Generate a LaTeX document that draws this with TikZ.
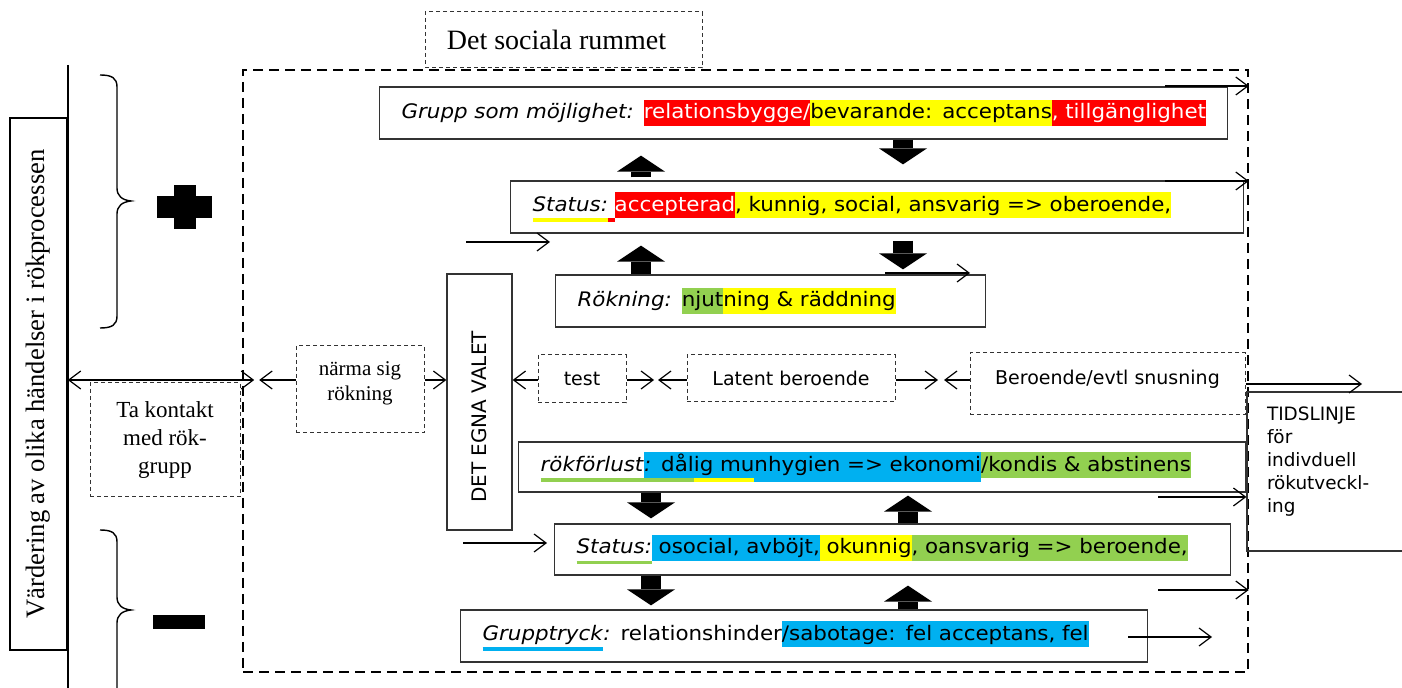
\documentclass[tikz,border=0pt]{standalone}
\usepackage{fontspec}
\setmainfont{DejaVu Sans}
\newfontfamily\verdana{DejaVu Sans}[FakeStretch=1.07]
\newfontfamily\timesfont{Liberation Serif}
\usepackage{xcolor}
\usepackage{graphicx}
\usepackage{tikz}
\usetikzlibrary{arrows.meta}
\definecolor{hlred}{HTML}{FF0000}
\definecolor{hlyellow}{HTML}{FFFF00}
\definecolor{hlblue}{HTML}{00B0F0}
\definecolor{hlgreen}{HTML}{92D050}
\newsavebox{\ulbox}
\newcommand{\hl}[2]{{\setlength{\fboxsep}{0pt}\colorbox{#1}{\rule[-3.5pt]{0pt}{13pt}#2}}}
\newcommand{\uln}[2]{\sbox{\ulbox}{#2}\rlap{\color{#1}\rule[-5.2pt]{\wd\ulbox}{1.7pt}}\usebox{\ulbox}}
\tikzstyle{level} = [rectangle, draw=black!80, line width=0.6pt, minimum height=26pt, inner xsep=11pt, inner ysep=0pt, anchor=west, align=left, font=\verdana\fontsize{10}{12}\selectfont]
\tikzstyle{phase} = [rectangle, draw=black!80, dash pattern=on 2pt off 1.5pt, line width=0.5pt, align=center, font=\fontsize{9.5}{11.5}\selectfont]
\tikzstyle{arrow} = [line width=0.6pt, -{Straight Barb[length=6pt,width=9pt]}]
\tikzstyle{twoway} = [line width=0.6pt, {Straight Barb[length=6pt,width=9pt]}-{Straight Barb[length=6pt,width=9pt]}]
\tikzstyle{block} = [line width=10pt, -{Triangle[width=24pt,length=8pt,line width=0pt]}]

\begin{document}
\begin{tikzpicture}[x=0.5pt,y=-0.5pt]
\useasboundingbox (0,0) rectangle (1402,688);

\node (rummet) [rectangle, draw, dash pattern=on 5pt off 3pt, line width=0.8pt, minimum width=502.5pt, minimum height=301pt] at (745.5,371) {};
\node (title) [phase, font=\timesfont\fontsize{14}{16}\selectfont, minimum width=138.5pt, minimum height=28pt] at (563.5,40) {Det sociala rummet\kern7pt};

\node (varde) [rectangle, draw, line width=0.8pt, minimum width=28.5pt, minimum height=266pt, font=\timesfont\fontsize{13.3}{15}\selectfont] at (38.5,384) {\rotatebox{90}{Värdering av olika händelser i rökprocessen}};
\draw [line width=0.7pt] (68,65) -- (68,688);

% plus / minus
\draw [line width=0.7pt] (100,75) .. controls (112,75) and (117,78) .. (117,87) -- (117,188) .. controls (117,196) and (122,200) .. (131,201) .. controls (122,202) and (117,206) .. (117,214) -- (117,316) .. controls (117,325) and (112,328) .. (100,328);
\draw [line width=0.7pt] (100,530) .. controls (112,530) and (117,533) .. (117,542) -- (117,597) .. controls (117,605) and (122,609) .. (131,610) .. controls (122,611) and (117,615) .. (117,623) -- (117,700);
\fill (157,196) rectangle (212,218);
\fill (174,185) rectangle (196,229);
\fill (153,615) rectangle (205,629);

\node (kontakt) [phase, font=\timesfont\fontsize{11.5}{14}\selectfont, minimum width=75pt, minimum height=57pt] at (165,440) {Ta kontakt\\med rök-\\grupp};
\node (narma) [phase, font=\timesfont\fontsize{10.5}{12.5}\selectfont, minimum width=64pt, minimum height=43.5pt] at (360,389.5) {närma sig\\rökning\\[-4pt]\mbox{}};
\node (egna) [rectangle, draw=black!80, line width=0.6pt, minimum width=32.5pt, minimum height=128pt, font=\fontsize{10}{12}\selectfont] at (479.5,402) {\rotatebox{90}{DET EGNA VALET\hspace{15pt}}};
\node (test) [phase, minimum width=44pt, minimum height=24pt] at (582,379) {test};
\node (latent) [phase, minimum width=104pt, minimum height=23.5pt] at (791,378.5) {Latent beroende};
\node (beroende) [phase, minimum width=137.5pt, minimum height=31pt] at (1107.5,384) {Beroende/evtl snusning\\[-5pt]\mbox{}};
\node (tids) [rectangle, draw=black!80, line width=0.6pt, minimum width=81.5pt, minimum height=79.5pt, inner xsep=10pt, text width=61.5pt, align=left, font=\fontsize{9.2}{11.5}\selectfont] at (1328.5,471.5) {TIDSLINJE\\för\\indivduell\\rökutveckl-\\ing\\\mbox{}};

\node (grupp) [level, text width=402pt] at (379,113) {\mbox{\textit{Grupp som möjlighet:} \hl{hlred}{\color{white}relationsbygge/}\hl{hlyellow}{bevarande: acceptans}\hl{hlred}{\color{white}, tillgänglighet}}};
\node (status1) [level, text width=344.5pt] at (510,207) {\mbox{\uln{hlyellow}{\textit{Status:}}\uln{hlred}{ }\hl{hlred}{\color{white}accepterad}\hl{hlyellow}{, kunnig, social, ansvarig => oberoende,}}};
\node (rokning) [level, text width=193pt] at (555,301) {\mbox{\textit{Rökning:} \hl{hlgreen}{njut}\hl{hlyellow}{ning \& räddning}}};
\node (forlust) [level, text width=341.5pt, minimum height=25pt] at (518,467) {\mbox{\uln{hlgreen}{\textit{rökförlust}}\hl{hlblue}{\uln{hlgreen}{\textit{:} dål}\uln{hlyellow}{ig mu}nhygien => ekonomi}\hl{hlgreen}{/kondis \& abstinens}}};
\node (status2) [level, text width=316pt, minimum height=25.5pt] at (554,549.5) {\mbox{\uln{hlgreen}{\textit{Status:}}\hl{hlblue}{ osocial, avböjt,}\hl{hlyellow}{ okunnig}\hl{hlgreen}{, oansvarig => beroende,}}};
\node (tryck) [level, text width=321.5pt] at (460,636) {\mbox{\uln{hlblue}{\textit{Grupptryck}}\textit{:} relationshinder\hl{hlblue}{/sabotage: fel acceptans, fel}}};

\coordinate (row) at (0,380);
\coordinate (entry) at ([xshift=6pt]rummet.west);
\coordinate (entry2) at ([xshift=8.5pt]rummet.west);
\coordinate (gap1) at (656,380);
\coordinate (gap2) at (941,380);
\coordinate (tidend) at (1362,0);
\coordinate (g1) at (1165,86);
\coordinate (s1) at (1165,181);
\coordinate (in1s) at (466,242);
\coordinate (in1e) at (550,242);
\coordinate (r1s) at (885,273);
\coordinate (r1e) at (970,273);
\coordinate (f1) at (1158,497);
\coordinate (in2s) at (463,543);
\coordinate (in2e) at (547,543);
\coordinate (s2) at (1158,590);
\coordinate (t1s) at (1128,637);
\coordinate (t1e) at (1212,637);
\coordinate (colA) at (641,0);
\coordinate (colB) at (903,0);
\coordinate (colC) at (651,0);
\coordinate (colD) at (908,0);

\draw [twoway] (varde.east |- row) -- (entry |- row);
\draw [arrow] (narma.west |- row) -- (entry2 |- row);
\draw [arrow] (narma.east |- row) -- (egna.west |- row);
\draw [arrow] (test.west |- row) -- (egna.east |- row);
\draw [arrow, shorten >=1pt] (test.east |- row) -- (gap1);
\draw [arrow, shorten >=1pt] (latent.west |- row) -- (gap1);
\draw [arrow, shorten >=1.5pt] (latent.east |- row) -- (gap2);
\draw [arrow, shorten >=1.5pt] (beroende.west |- row) -- (gap2);
\draw [arrow] (beroende.east) -- (beroende.east -| tidend);

\draw [arrow] (g1) -- (g1 -| rummet.east);
\draw [arrow] (s1) -- (s1 -| rummet.east);
\draw [arrow] (in1s) -- (in1e);
\draw [arrow] (r1s) -- (r1e);
\draw [arrow] (f1) -- (f1 -| tids.west);
\draw [arrow] (in2s) -- (in2e);
\draw [arrow] (s2) -- (s2 -| rummet.east);
\draw [arrow] (t1s) -- (t1e);

\draw [block, shorten <=1.5pt, shorten >=8pt] (colA |- status1.north) -- (colA |- grupp.south);
\draw [block, shorten >=8pt] (colB |- grupp.south) -- (colB |- status1.north);
\draw [block, shorten >=6pt] (colA |- rokning.north) -- (colA |- status1.south);
\draw [block, shorten <=3.5pt, shorten >=2.5pt] (colB |- status1.south) -- (colB |- rokning.north);
\draw [block, shorten >=2.5pt] (colC |- forlust.south) -- (colC |- status2.north);
\draw [block, shorten >=1.5pt] (colD |- status2.north) -- (colD |- forlust.south);
\draw [block, shorten >=2pt] (colC |- status2.south) -- (colC |- tryck.north);
\draw [block, shorten >=5pt] (colD |- tryck.north) -- (colD |- status2.south);
\end{tikzpicture}
\end{document}
